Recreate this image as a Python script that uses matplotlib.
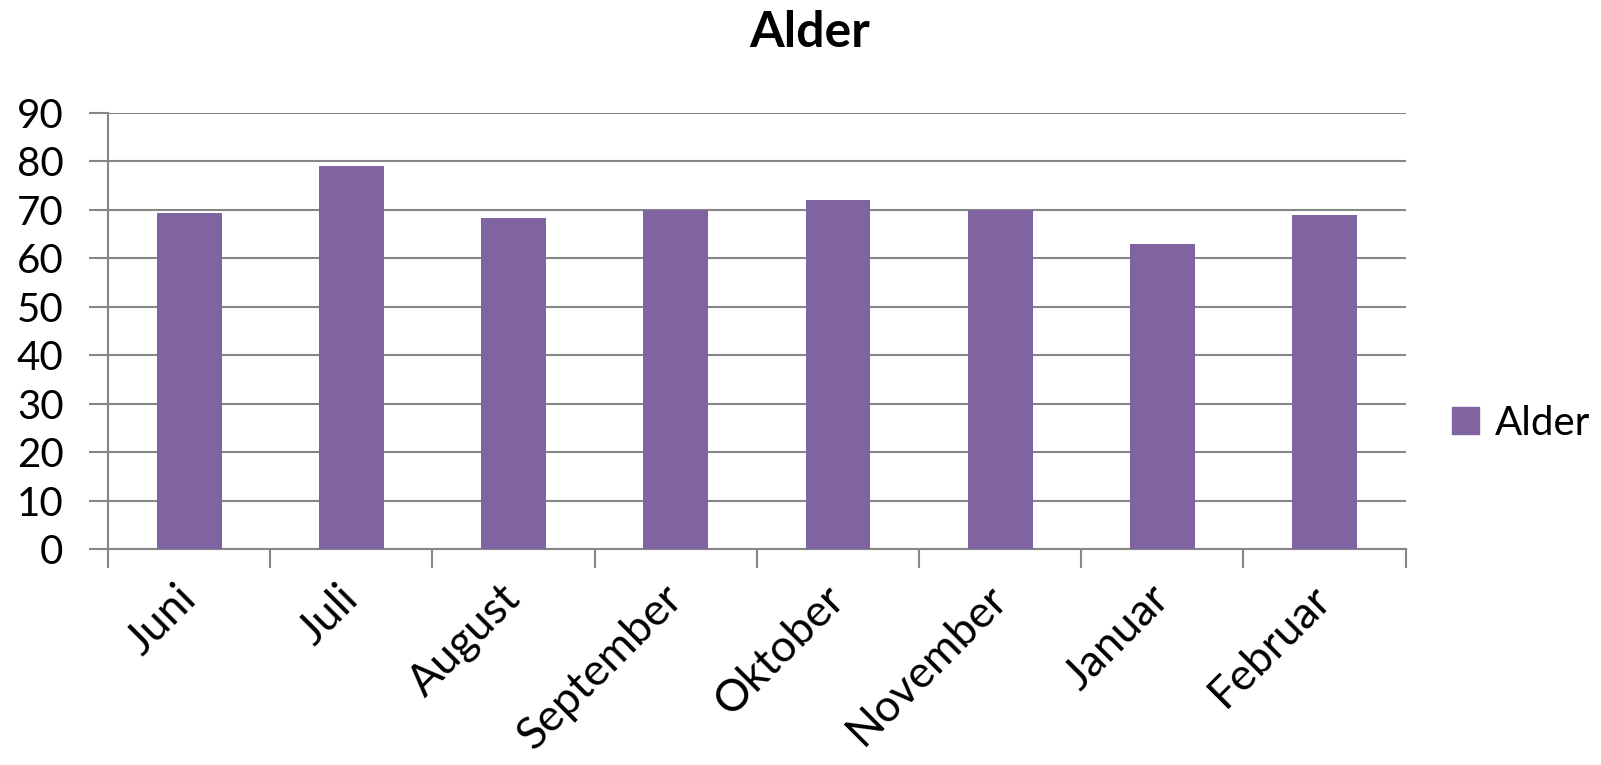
import numpy as np
import matplotlib
matplotlib.use("Agg")
import matplotlib.pyplot as plt
from matplotlib.patches import Patch

months = ["Juni", "Juli", "August", "September", "Oktober", "November", "Januar", "Februar"]
alder = [69.3, 79, 68.4, 70, 72, 70, 62.9, 69]
yticks = [0, 10, 20, 30, 40, 50, 60, 70, 80, 90]

plt.rcParams['font.family'] = ['Lato', 'DejaVu Sans']
purple = '#8064A2'
grid_col = '#868686'

fig = plt.figure(figsize=(16.01, 7.65), dpi=100, facecolor='white')
ax = fig.add_axes([0.0675, 0.2824, 0.8105, 0.5699])

x = np.arange(len(months))
ax.bar(x, alder, width=0.4, color=purple, zorder=3, label="Alder")

ax.set_xlim(-0.5, len(months) - 0.5)
ax.set_ylim(0, 90)
ax.set_yticks(yticks)
ax.set_yticklabels([str(v) for v in yticks], fontsize=29)
ax.yaxis.grid(True, color=grid_col, linewidth=1.5, zorder=0)

# category boundaries as tick marks
ax.set_xticks(np.arange(len(months) + 1) - 0.5)
ax.set_xticklabels([])
ax.set_xticks(x, minor=True)
ax.set_xticklabels(months, minor=True, rotation=45, ha='right', va='center',
                   rotation_mode='anchor', fontsize=32)
ax.tick_params(axis='x', which='major', length=14, width=1.5, color=grid_col, direction='out')
ax.tick_params(axis='x', which='minor', length=0, pad=31)
ax.tick_params(axis='y', length=14, width=1.5, color=grid_col, pad=18)

for s in ['top', 'right']:
    ax.spines[s].set_visible(False)
for s in ['left', 'bottom']:
    ax.spines[s].set_color(grid_col)
    ax.spines[s].set_linewidth(1.5)

fig.text(0.506, 0.957, "Alder", ha='center', va='center', fontsize=36, fontweight='bold')

fig.legend(handles=[Patch(color=purple, label="Alder")], loc='center left',
           bbox_to_anchor=(0.884, 0.447), frameon=False, fontsize=29,
           handlelength=0.68, handleheight=0.68, handletextpad=0.4)

fig.savefig("out.png", dpi=100, facecolor='white')
